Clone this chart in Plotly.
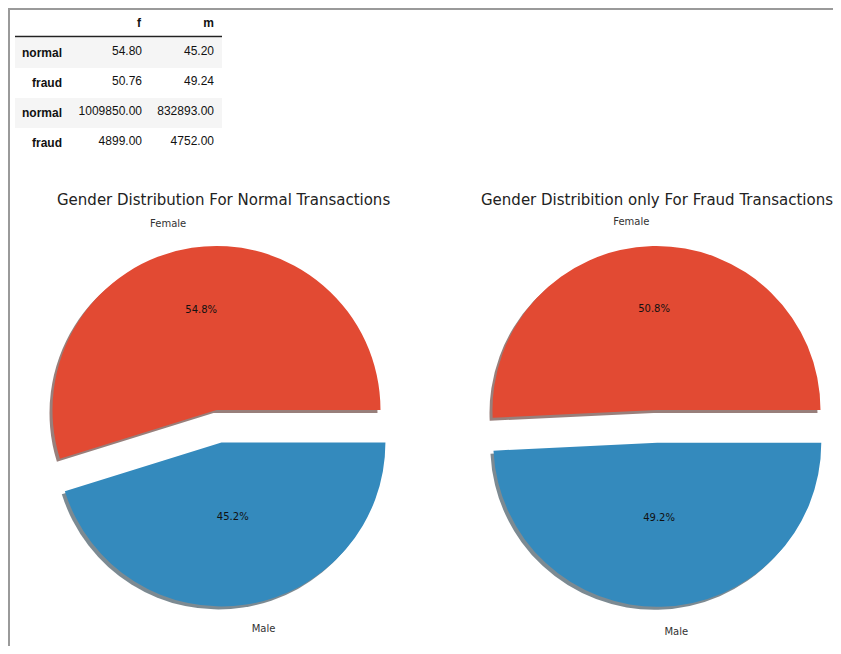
import math
import plotly.graph_objects as go

# ---------------- data ----------------
genders = ["Female", "Male"]
normal_counts = [1009850, 832893]
fraud_counts = [4899, 4752]

table_index = ["normal", "fraud", "normal", "fraud"]
table_cols = ["f", "m"]
table_f = [54.80, 50.76, 1009850.00, 4899.00]
table_m = [45.20, 49.24, 832893.00, 4752.00]

titles = ["Gender Distribution For Normal Transactions",
          "Gender Distribition only For Fraud Transactions"]

# ---------------- styling / layout ----------------
OFF = 8                      # page body margin
FW, FH = 841 - OFF, 654 - 2 * OFF
colors = ["#E24A33", "#348ABD"]
shadow_colors = ["rgba(68,22,15,0.55)", "rgba(16,41,57,0.55)"]
CLEAR = "rgba(0,0,0,0)"
explode = [0.0, 0.2]         # fraction of radius
R = 164                      # pie radius px
R_LAB = R + 19               # radius used to place outside labels
PCT_DIST = [102, 75]         # px from wedge apex to percentage text (Female, Male)
centers = [(216.5, 410), (656.5, 410)]   # screen px
SH = 3                       # shadow offset px


def px(sx):
    return (sx - OFF) / FW


def py(sy):
    return 1 - (sy - OFF) / FH


def dom(cx, cy, r=R):
    return dict(x=[max(0, px(cx - r)), min(1, px(cx + r))],
                y=[max(0, py(cy + r)), min(1, py(cy - r))])


fig = go.Figure()
shadows, wedges, texts, labels = [], [], [], []

for (cx, cy), vals in zip(centers, [normal_counts, fraud_counts]):
    total = sum(vals)
    # slices drawn clockwise from 3 o'clock in reverse order (Male, Female),
    # which equals matplotlib's counterclockwise Female-then-Male from 0 deg
    order = [1, 0]
    lab = [genders[i] for i in order]
    val = [vals[i] for i in order]
    start = 90.0
    for k, i in enumerate(order):
        frac = val[k] / total
        mid = start + 180.0 * frac          # clockwise-from-top degrees
        start += 360.0 * frac
        d = explode[i] * R
        dx = d * math.sin(math.radians(mid))
        dy = -d * math.cos(math.radians(mid))
        ccx, ccy = cx + dx, cy + dy
        show = [CLEAR, CLEAR]
        show[k] = colors[i]
        sh = [CLEAR, CLEAR]
        sh[k] = shadow_colors[i]
        pct_t = ["", ""]
        pct_t[k] = "%{percent:.1%}"
        lab_t = ["", ""]
        lab_t[k] = "%{label}"
        common = dict(labels=lab, values=val, sort=False, direction="clockwise",
                      rotation=90, showlegend=False, hoverinfo="skip")
        shadows.append(go.Pie(domain=dom(ccx - SH, ccy + SH),
                              marker=dict(colors=sh, line=dict(width=0)),
                              textinfo="none", **common))
        wedges.append(go.Pie(domain=dom(ccx, ccy),
                             marker=dict(colors=show, line=dict(width=0)),
                             textinfo="none", **common))
        # percentage text: transparent pie sized so the text sits at PCT_DIST
        dist = PCT_DIST[i]
        if dist >= 0.5 * R:
            r_t, hole = R, 2 * dist / R - 1
        else:
            r_t, hole = 2 * dist, 0
        texts.append(go.Pie(domain=dom(ccx, ccy, r_t), hole=hole,
                            marker=dict(colors=[CLEAR, CLEAR], line=dict(width=0)),
                            texttemplate=pct_t, textposition="inside",
                            insidetextorientation="horizontal",
                            textfont=dict(family="DejaVu Sans", size=10, color="#111"),
                            **common))
        labels.append(go.Pie(domain=dom(ccx, ccy, R_LAB),
                             marker=dict(colors=[CLEAR, CLEAR], line=dict(width=0)),
                             texttemplate=lab_t, textposition="outside",
                             outsidetextfont=dict(family="DejaVu Sans", size=10, color="#333"),
                             **common))

for t in shadows + wedges + texts + labels:
    fig.add_trace(t)

# ---------------- table ----------------
tx0, tx1 = 15, 222            # screen px
ty0 = OFF
hdr_h, row_h = 28, 28.5
ty1 = ty0 + hdr_h + row_h * len(table_index) + 2
row_fill = ["#f5f5f5" if i % 2 == 0 else "white" for i in range(len(table_index))]

fig.add_trace(go.Table(
    domain=dict(x=[px(tx0), px(tx1)], y=[py(ty1), py(ty0)]),
    columnwidth=[55, 80, 72],
    header=dict(values=[""] + [f"<b>{c}</b>" for c in table_cols],
                align="right", height=hdr_h,
                fill_color="white", line=dict(width=0, color="white"),
                font=dict(family="Liberation Sans", size=12, color="#111")),
    cells=dict(values=[[f"<b>{r}</b>" for r in table_index],
                       [f"{v:.2f}" for v in table_f],
                       [f"{v:.2f}" for v in table_m]],
               align="right", height=row_h,
               fill_color=[row_fill, row_fill, row_fill],
               line=dict(width=0, color="white"),
               font=dict(family="Liberation Sans", size=12, color="#111")),
))

shapes = [
    # header underline
    dict(type="line", xref="paper", yref="paper",
         x0=px(tx0), x1=px(tx1), y0=py(36.5), y1=py(36.5),
         line=dict(color="#222", width=1.5)),
    # frame lines (top and left)
    dict(type="line", xref="paper", yref="paper",
         x0=0, x1=1, y0=1 - 1 / FH, y1=1 - 1 / FH,
         line=dict(color="#9a9a9a", width=2)),
    dict(type="line", xref="paper", yref="paper",
         x0=1 / FW, x1=1 / FW, y0=0, y1=1 - 1 / FH,
         line=dict(color="#9a9a9a", width=2)),
]

title_x = [223.5, 657]
annotations = [
    dict(text=t, x=px(x), y=py(200), xref="paper", yref="paper",
         xanchor="center", yanchor="middle", showarrow=False,
         font=dict(family="DejaVu Sans", size=15, color="#222"))
    for t, x in zip(titles, title_x)
]

fig.update_layout(
    width=FW, height=FH, autosize=False,
    margin=dict(l=0, r=0, t=0, b=0, pad=0, autoexpand=False),
    paper_bgcolor="white", plot_bgcolor="white",
    shapes=shapes, annotations=annotations,
)

fig.write_html("out.html")
